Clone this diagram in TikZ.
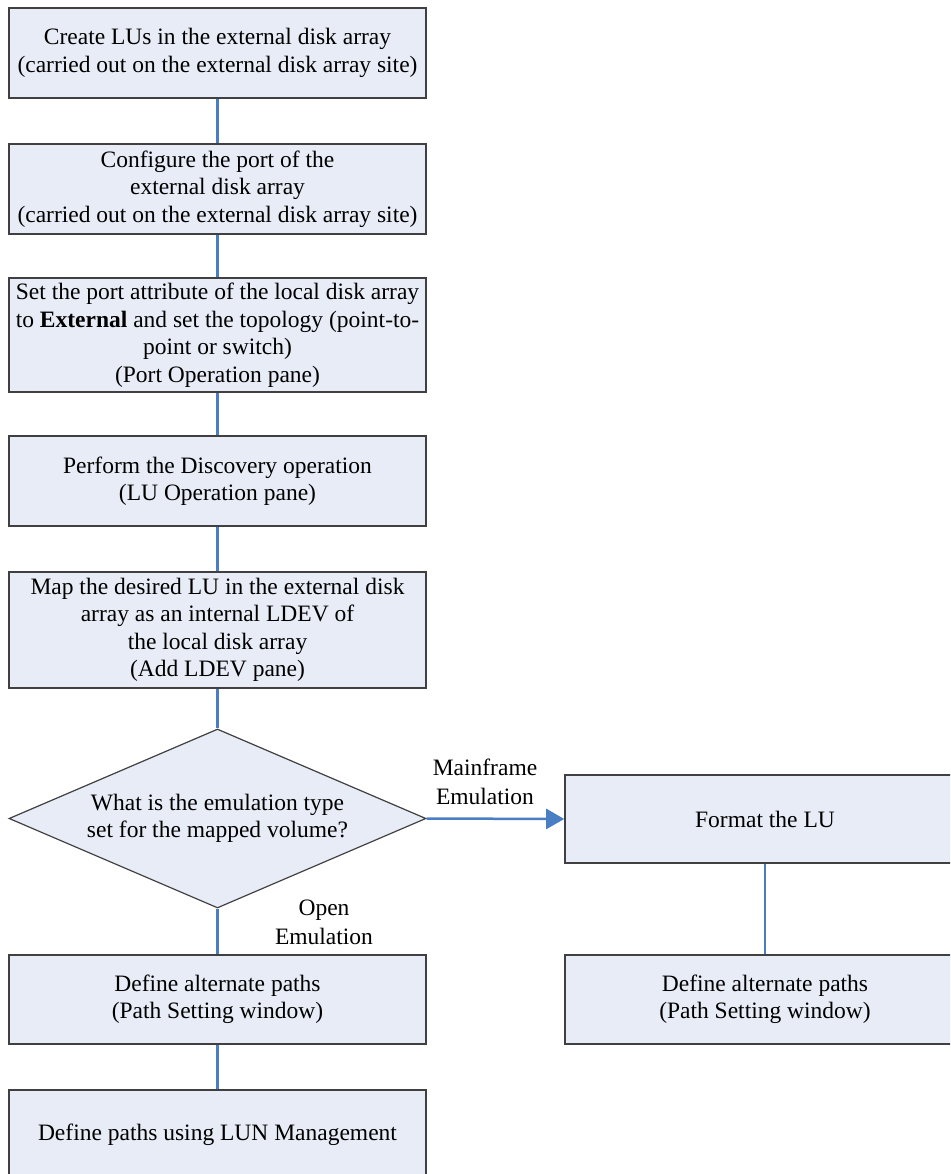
\documentclass[tikz,border=0pt]{standalone}
\usepackage{fontspec}
\setmainfont{Liberation Serif}
\usetikzlibrary{arrows.meta,shapes.geometric}
\definecolor{boxfill}{HTML}{E8ECF6}
\definecolor{boxline}{HTML}{404040}
\definecolor{linkblue}{HTML}{4A7EC4}
\tikzset{box/.style={draw=boxline,fill=boxfill,line width=1.6pt,align=center,inner sep=2pt,minimum width=417pt,font=\fontsize{23.5}{27.5}\selectfont},
dia/.style={box,diamond,aspect=2.33,inner sep=0pt,minimum height=179pt,line width=1.2pt},
lbl/.style={align=center,font=\fontsize{23.5}{29}\selectfont},
link/.style={draw=linkblue,line width=2.5pt},arr/.style={link,-{Triangle[length=18pt,width=20pt]}}}

\begin{document}
\begin{tikzpicture}[x=1pt,y=-1pt]
\useasboundingbox(0,0)rectangle(950,1174);\clip(0,0)rectangle(950,1174);
\node[box,minimum height=90pt](create)at(217.5,53){Create LUs in the external disk array\\(carried out on the external disk array site)};
\node[box,minimum height=90pt](config)at(217.5,189){Configure the port of the\\external disk array\\(carried out on the external disk array site)};
\node[box,minimum height=114pt](setport)at(217.5,335){Set the port attribute of the local disk array\\to \textbf{External} and set the topology (point-to-\\point or switch)\\(Port Operation pane)};
\node[box,minimum height=90pt](discover)at(217.5,481){Perform the Discovery operation\\(LU Operation pane)};
\node[box,minimum height=116pt](map)at(217.5,630){Map the desired LU in the external disk\\array as an internal LDEV of\\the local disk array\\(Add LDEV pane)};
\node[dia](ask)at(217.5,818.5){What is the emulation type\\set for the mapped volume?};
\node[box,minimum width=400pt,minimum height=88pt](format)at(765,819){Format the LU};
\node[box,minimum width=400pt,minimum height=89pt](altright)at(765,999.5){Define alternate paths\\(Path Setting window)};
\node[box,minimum height=89pt](altleft)at(217.5,999.5){Define alternate paths\\(Path Setting window)};
\node[box,minimum height=90pt](lun)at(217.5,1135){Define paths using LUN Management};
\foreach\a/\b in{create/config,config/setport,setport/discover,discover/map,map/ask,ask/altleft,altleft/lun,format/altright}\draw[link](\a)--(\b);
\draw[arr](ask.east)--(format.west);
\node[lbl](mfl)at(485,782){Mainframe\\Emulation};
\node[lbl](opl)at(324,922){Open\\Emulation};
\end{tikzpicture}
\end{document}
